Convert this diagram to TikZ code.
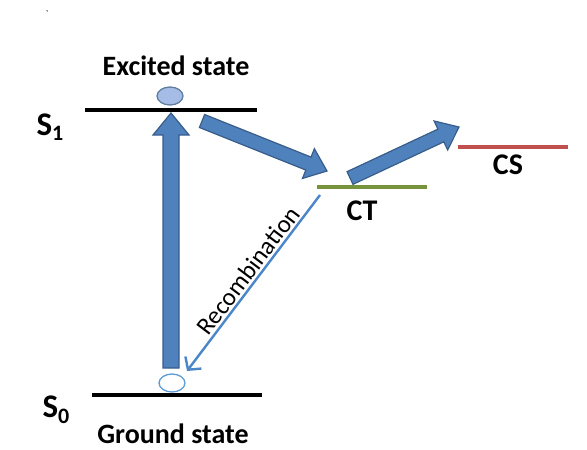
\documentclass[tikz,border=0pt]{standalone}
\usepackage{fontspec}
\setmainfont{Carlito}
\usetikzlibrary{arrows.meta,calc,shapes.geometric}
\definecolor{arrowblue}{HTML}{4F81BD}
\definecolor{arrowedge}{HTML}{385D8A}
\definecolor{holeblue}{HTML}{5B9BD5}
\definecolor{recombblue}{HTML}{4A86C8}
\definecolor{elecfill}{HTML}{A4BCE6}
\definecolor{ctgreen}{HTML}{77933C}
\definecolor{csred}{HTML}{C0504D}
\tikzset{
	level/.style={line width=4.5pt},
	statelabel/.style={font=\bfseries\fontsize{28}{30}\selectfont},
	levellabel/.style={font=\bfseries\fontsize{33}{34}\selectfont},
	carrier/.style={ellipse, minimum width=26pt, minimum height=18pt, inner sep=0pt, line width=1.3pt},
	arrow body/.style={fill=arrowblue, draw=arrowedge, line width=1.2pt, line join=miter}
}
% subscript in the label font
\newcommand\levelsub[1]{\raisebox{-0.35ex}{\fontsize{22}{22}\selectfont #1}}
% block arrow: tail, tip, half shaft, half head, head length
\newcommand\blockarrow[5]{%
	\coordinate (neck) at ($(#2)!#5!(#1)$);
	\filldraw[arrow body] ($(#1)!#3!90:(#2)$) -- ($(neck)!#3!90:(#2)$)
		-- ($(neck)!#4!90:(#2)$) -- (#2) -- ($(neck)!#4!-90:(#2)$)
		-- ($(neck)!#3!-90:(#2)$) -- ($(#1)!#3!-90:(#2)$) -- cycle;
}
\begin{document}
\begin{tikzpicture}[x=1pt,y=-1pt]
	\useasboundingbox (0,0) rectangle (587,450);

	% stray mark
	\node (mark) at (47,14) {\fontsize{10}{10}\selectfont\textasciigrave};

	% energy levels
	\coordinate (s1l) at (85,110);
	\coordinate (s1r) at (257,110);
	\coordinate (s0l) at (92,395);
	\coordinate (s0r) at (262,395);
	\coordinate (ctl) at (317,187);
	\coordinate (ctr) at (427,187);
	\coordinate (csl) at (458,147);
	\coordinate (csr) at (568,147);
	\draw[level] (s1l) -- (s1r);
	\draw[level] (s0l) -- (s0r);
	\draw[level, ctgreen] (ctl) -- (ctr);
	\draw[level, csred] (csl) -- (csr);

	% labels
	\node[statelabel] (excited) at (176,66) {Excited state};
	\node[statelabel] (ground) at (173,434) {Ground state};
	\node[levellabel] (s1) at (50,127) {S\levelsub{1}};
	\node[levellabel] (s0) at (56,410) {S\levelsub{0}};
	\node[font=\bfseries\fontsize{30}{32}\selectfont] (ct) at (362,211) {CT};
	\node[font=\bfseries\fontsize{30}{32}\selectfont] (cs) at (508,165) {CS};

	% electron and hole
	\node[carrier, draw=arrowedge!80, fill=elecfill] (elec) at (170,96) {};
	\node[carrier, draw=holeblue, fill=white] (hole) at (172,383) {};

	% block arrows
	\coordinate (upt) at (171,368);
	\coordinate (uph) at (171,113);
	\blockarrow{upt}{uph}{8pt}{18pt}{22pt}
	\coordinate (ett) at (202,121);
	\coordinate (eth) at (327,171);
	\blockarrow{ett}{eth}{7pt}{16pt}{20pt}
	\coordinate (cst) at (350,178);
	\coordinate (csh) at (459,127);
	\blockarrow{cst}{csh}{7pt}{16pt}{20pt}

	% recombination
	\coordinate (rs) at (320,195);
	\coordinate (re) at (187,371);
	\draw[recombblue, line width=2.4pt, -{Straight Barb[length=9pt,width=20pt,line width=2.4pt]}] (rs) -- (re)
		node[pos=0.47, sloped, above, inner sep=2pt, text=black, font=\fontsize{25}{26}\selectfont] (recomb) {Recombination};
\end{tikzpicture}
\end{document}
